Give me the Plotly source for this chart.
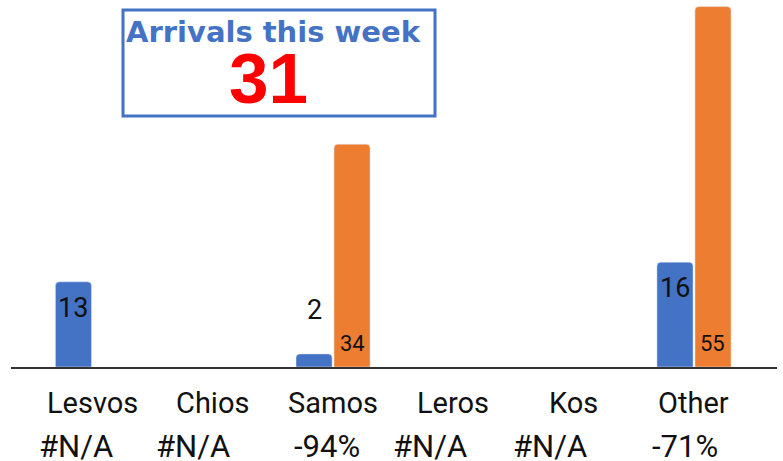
import plotly.graph_objects as go

categories = ["Lesvos", "Chios", "Samos", "Leros", "Kos", "Other"]
this_week = [13, None, 2, None, None, 16]
last_week = [None, None, 34, None, None, 55]
change_labels = ["#N/A", "#N/A", "-94%", "#N/A", "#N/A", "-71%"]
total_title = "Arrivals this week"
total_value = "31"

BLUE = "#4472C4"
ORANGE = "#ED7D31"
FONT = "Roboto"
TXT = "#111111"

# style constants
change_shift = [-16, -20, -6, -23, -24, -9]    # x nudges of the second label row (px)
PX_PER_UNIT = 367 / 56
BAR_OFFSET = 19                                 # px from category centre to each bar centre

fig = go.Figure()
fig.add_trace(go.Bar(x=categories, y=this_week, marker=dict(color=BLUE, cornerradius=4),
                     hoverinfo="x+y"))
fig.add_trace(go.Bar(x=categories, y=last_week, marker=dict(color=ORANGE, cornerradius=4),
                     hoverinfo="x+y"))

annotations = []
# value labels
for c, v in zip(categories, this_week):
    if v is None:
        continue
    inside = v * PX_PER_UNIT > 40
    annotations.append(dict(x=c, xref="x", y=v, yref="y", xshift=-BAR_OFFSET,
                            yshift=-26 if inside else 44, text=str(v), showarrow=False,
                            xanchor="center", yanchor="middle",
                            font=dict(family=FONT, size=27, color=TXT)))
for c, v in zip(categories, last_week):
    if v is None:
        continue
    annotations.append(dict(x=c, xref="x", y=0, yref="y", xshift=BAR_OFFSET,
                            yshift=24, text=str(v), showarrow=False,
                            xanchor="center", yanchor="middle",
                            font=dict(family=FONT, size=22, color=TXT)))

# category labels and change row
for i, (c, lab) in enumerate(zip(categories, change_labels)):
    annotations.append(dict(x=c, xref="x", y=0, yref="paper", yshift=-36,
                            text=c, showarrow=False, xanchor="center", yanchor="middle",
                            font=dict(family=FONT, size=29, color=TXT)))
    annotations.append(dict(x=c, xref="x", y=0, yref="paper", yshift=-79,
                            xshift=change_shift[i],
                            text=lab, showarrow=False, xanchor="center", yanchor="middle",
                            font=dict(family=FONT, size=31, color=TXT)))

# headline box
annotations.append(dict(x=(273 - 11) / 766, xref="paper", y=(367 - 32) / 367, yref="paper",
                        text="<b>" + total_title + "</b>", showarrow=False,
                        xanchor="center", yanchor="middle",
                        font=dict(family="DejaVu Sans", size=29, color=BLUE)))
annotations.append(dict(x=(268 - 11) / 766, xref="paper", y=(367 - 78) / 367, yref="paper",
                        text="<b>" + total_value + "</b>", showarrow=False,
                        xanchor="center", yanchor="middle",
                        font=dict(family="Liberation Sans", size=71, color="#FF0000")))

fig.update_layout(
    width=783, height=461,
    margin=dict(l=11, r=6, t=0, b=94),
    paper_bgcolor="white", plot_bgcolor="white",
    barmode="group", bargap=0.368, bargroupgap=0.05,
    showlegend=False,
    xaxis=dict(range=[-0.677, 5.69], showticklabels=False, showgrid=False,
               showline=True, linecolor="#333333", linewidth=2, zeroline=False,
               ticks=""),
    yaxis=dict(range=[0, 56], visible=False),
    annotations=annotations,
    shapes=[dict(type="rect", xref="paper", yref="paper",
                 x0=(123 - 11) / 766, x1=(435 - 11) / 766,
                 y0=(367 - 116) / 367, y1=(367 - 10) / 367,
                 line=dict(color=BLUE, width=3), fillcolor="rgba(0,0,0,0)")],
)

fig.write_html("out.html", config={"displayModeBar": False},
               post_script="document.body.style.margin='0px';document.body.style.overflow='hidden';")
